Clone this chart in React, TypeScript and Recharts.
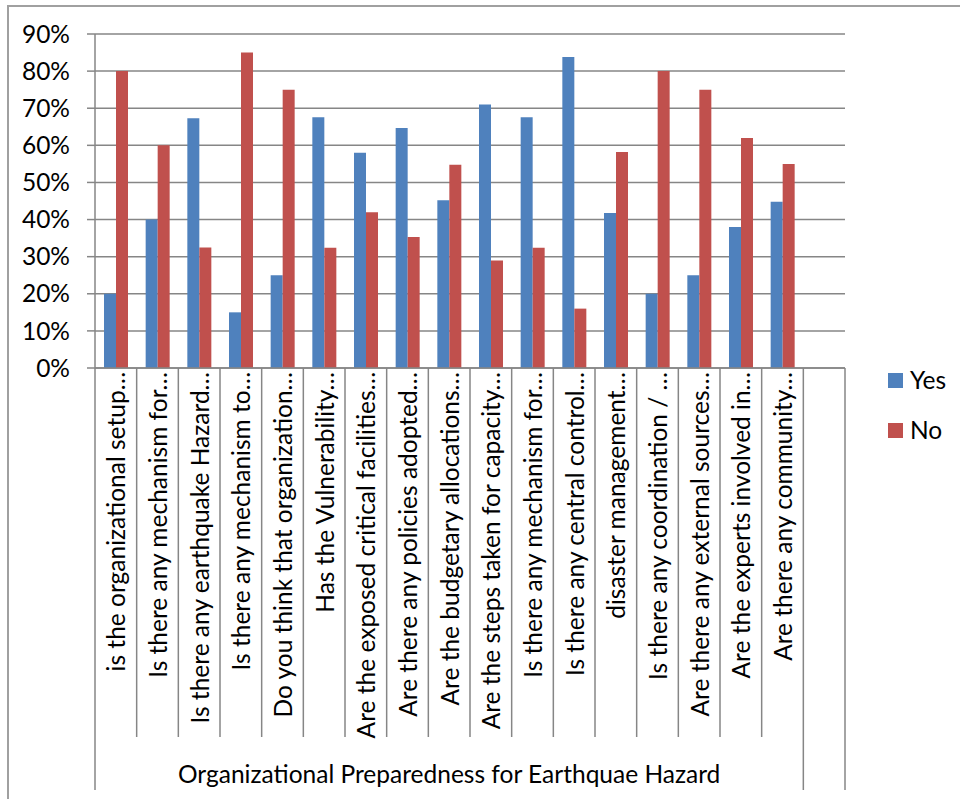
import React from 'react';
import { BarChart, Bar, XAxis, YAxis, CartesianGrid, Legend } from 'recharts';

const CATEGORIES = [
  'is the organizational setup…',
  'Is there any mechanism for…',
  'Is there any earthquake Hazard…',
  'Is there any mechanism to…',
  'Do you think that organization…',
  'Has the Vulnerability…',
  'Are the exposed critical facilities…',
  'Are there any policies adopted…',
  'Are the budgetary allocations…',
  'Are the steps taken for capacity…',
  'Is there any mechanism for…',
  'Is there any central control…',
  'disaster management…',
  'Is there any coordination / …',
  'Are there any external sources…',
  'Are the experts involved in…',
  'Are there any community…',
  '',
];
const YES = [20, 40, 67.3, 15, 25, 67.6, 58, 64.7, 45.2, 71, 67.6, 83.8, 41.8, 20, 25, 38, 44.8, null];
const NO = [80, 60, 32.5, 85, 75, 32.4, 42, 35.3, 54.8, 29, 32.4, 16, 58.2, 80, 75, 62, 55, null];
const Y_TICKS = [0, 10, 20, 30, 40, 50, 60, 70, 80, 90];
const SERIES_NAMES = ['Yes', 'No'];
const GROUP_LABEL = 'Organizational Preparedness for Earthquae Hazard';
const GROUP_SIZE = 17;

const data = CATEGORIES.map((name, i) => ({ name, yes: YES[i], no: NO[i] }));

const FONT = "Lato, 'Noto Sans', sans-serif";
const FS = 24.5;
const GRID = '#868686';
const BLUE = '#4F81BD';
const RED = '#C0504D';

const W = 960;
const H = 799;
const PLOT_LEFT = 95;
const PLOT_RIGHT = 845;
const PLOT_TOP = 34;
const PLOT_BOTTOM = 368;
const BW = (PLOT_RIGHT - PLOT_LEFT) / CATEGORIES.length;

function CategoryTick(props: any) {
  const { x, y, payload } = props;
  const index = props.index ?? payload.index;
  const left = x - BW / 2;
  const last = index === CATEGORIES.length - 1;
  const longLine = index === 0 || index === GROUP_SIZE;
  return (
    <g>
      <line x1={left} x2={left} y1={y} y2={y + (longLine ? 422 : 369)} stroke={GRID} strokeWidth={1.5} />
      {last && (
        <line x1={x + BW / 2} x2={x + BW / 2} y1={y} y2={y + 422} stroke={GRID} strokeWidth={1.5} />
      )}
      {payload.value !== '' && (
        <text
          x={x}
          y={y + 4}
          transform={`rotate(-90, ${x}, ${y + 4})`}
          textAnchor="end"
          dominantBaseline="central"
          fontFamily={FONT}
          fontSize={FS}
          fill="#000"
        >
          {payload.value}
        </text>
      )}
      {index === 0 && (
        <text
          x={left + (GROUP_SIZE * BW) / 2}
          y={y + 405}
          textAnchor="middle"
          dominantBaseline="central"
          fontFamily={FONT}
          fontSize={FS}
          fill="#000"
        >
          {GROUP_LABEL}
        </text>
      )}
    </g>
  );
}

function LegendContent(props: any) {
  const items = [...(props.payload || [])].sort(
    (a: any, b: any) => SERIES_NAMES.indexOf(a.value) - SERIES_NAMES.indexOf(b.value)
  );
  return (
    <div style={{ fontFamily: FONT, fontSize: FS, color: '#000' }}>
      {items.map((e: any) => (
        <div key={e.value} style={{ display: 'flex', alignItems: 'center', height: 50 }}>
          <span style={{ display: 'inline-block', width: 15, height: 15, background: e.color, marginRight: 7 }} />
          <span style={{ lineHeight: '26px' }}>{e.value}</span>
        </div>
      ))}
    </div>
  );
}

export default function App() {
  return (
    <div style={{ position: 'absolute', left: 0, top: 0, width: W, height: H, background: '#fff', overflow: 'hidden' }}>
      <div
        style={{
          position: 'absolute',
          left: 7,
          top: 5,
          width: W,
          height: H,
          borderTop: '2px solid #a0a0a0',
          borderLeft: '2px solid #a0a0a0',
        }}
      />
      <div style={{ position: 'absolute', left: 0, top: 0 }}>
        <BarChart
          width={W}
          height={H}
          data={data}
          margin={{ top: PLOT_TOP, right: W - PLOT_RIGHT, bottom: 0, left: 0 }}
          barGap={0}
          barSize={12}
        >
          <CartesianGrid vertical={false} stroke={GRID} strokeWidth={1.5} />
          <XAxis
            dataKey="name"
            interval={0}
            tickLine={false}
            tickSize={0}
            tickMargin={0}
            axisLine={{ stroke: GRID, strokeWidth: 1.5 }}
            height={H - PLOT_BOTTOM}
            tick={<CategoryTick />}
          />
          <YAxis
            width={PLOT_LEFT}
            domain={[0, 90]}
            ticks={Y_TICKS}
            interval={0}
            tickFormatter={(v: number) => `${v}%`}
            tickSize={8}
            tickMargin={17}
            axisLine={{ stroke: GRID, strokeWidth: 1.5 }}
            tickLine={{ stroke: GRID, strokeWidth: 1.5 }}
            tick={{ fontFamily: FONT, fontSize: FS, fill: '#000' }}
          />
          <Legend
            layout="horizontal"
            verticalAlign="middle"
            align="center"
            wrapperStyle={{ left: 888, top: 355, width: 72, height: 100 }}
            content={<LegendContent />}
          />
          <Bar dataKey="yes" name={SERIES_NAMES[0]} fill={BLUE} isAnimationActive={false} />
          <Bar dataKey="no" name={SERIES_NAMES[1]} fill={RED} isAnimationActive={false} />
        </BarChart>
      </div>
    </div>
  );
}
